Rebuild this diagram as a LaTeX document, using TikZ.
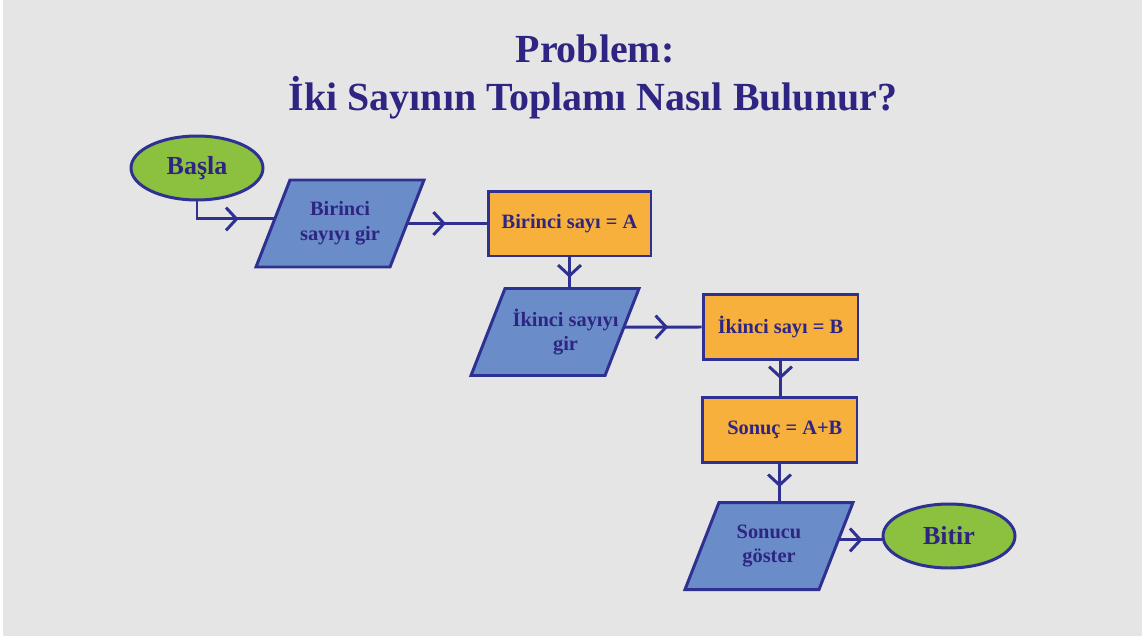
\documentclass[tikz,border=0pt]{standalone}
\usepackage{fontspec}
\setmainfont{Liberation Serif}
\usetikzlibrary{shapes.geometric,arrows.meta,decorations.markings,calc}

\definecolor{pagebg}{HTML}{E5E5E5}
\definecolor{edge}{HTML}{2E3192}
\definecolor{ink}{HTML}{2E2583}
\definecolor{iofill}{HTML}{6A8DC9}
\definecolor{procfill}{HTML}{F8B03C}
\definecolor{termfill}{HTML}{8CC13F}

\newcommand{\boxfont}{\fontsize{11.6}{14.2}\selectfont\bfseries}
\newcommand{\termfont}{\fontsize{14.8}{17}\selectfont\bfseries}
\newcommand{\titlefont}{\fontsize{22.7}{27}\selectfont\bfseries}

\tikzset{
  base/.style={draw=edge, line width=1.7pt, text=ink, inner sep=0pt},
  terminal/.style={base, ellipse, fill=termfill, minimum width=2.64cm,
    minimum height=1.28cm, font=\termfont},
  process/.style={base, rectangle, fill=procfill, minimum width=3.1cm,
    minimum height=1.3cm, font=\boxfont},
  ioshape/.style={draw=edge, line width=1.7pt, fill=iofill, line join=miter},
  iotext/.style={text=ink, inner sep=0pt, font=\boxfont, align=center},
  flow/.style={draw=edge, line width=1.7pt, postaction={decorate},
    decoration={markings, mark=at position #1 with
      {\arrow{Straight Barb[length=6pt,width=13pt,line width=1.7pt]}}}},
  flow/.default=0.5
}

% input/output parallelogram: name, centre, text
% corners: -tl -tr -br -bl, edge midpoints: -n -e -w
\newcommand{\iobox}[3]{%
  \coordinate (#1-c) at (#2);
  \draw[ioshape]
    ($(#1-c)+(-50,-43.5)$) coordinate (#1-tl) --
    ($(#1-c)+(84,-43.5)$) coordinate (#1-tr) --
    ($(#1-c)+(50,43.5)$) coordinate (#1-br) --
    ($(#1-c)+(-84,43.5)$) coordinate (#1-bl) -- cycle;
  \coordinate (#1-n) at ($(#1-tl)!0.5!(#1-tr)$);
  \coordinate (#1-e) at ($(#1-tr)!0.5!(#1-br)$);
  \coordinate (#1-w) at ($(#1-tl)!0.5!(#1-bl)$);
  \node[iotext] (#1) at (#1-c) {#3};%
}

\begin{document}
\begin{tikzpicture}[x=0.02cm, y=-0.02cm]
  % page
  \fill[white] (0,0) rectangle (1142,639);
  \fill[pagebg] (3,0) rectangle (1142,636);
  \useasboundingbox (0,0) rectangle (1142,639);

  % heading
  \node[anchor=base, text=ink, font=\titlefont] (t1) at (595,62.7) {Problem:};
  \node[anchor=base, text=ink, font=\titlefont] (t2) at (593,110.7) {İki Sayının Toplamı Nasıl Bulunur?};

  % flow chart shapes
  \node[terminal] (basla) at (197,168) {Başla};
  \iobox{p1}{340,223.5}{Birinci\\sayıyı gir}
  \node[process, minimum width=3.26cm] (r1) at (569.5,223.5) {Birinci sayı = A};
  \iobox{p2}{555,332}{\hspace*{12pt}İkinci sayıyı\\\hspace*{12pt}gir}
  \node[process] (r2) at (780.5,327) {İkinci sayı = B};
  \node[process] (r3) at (779.5,430) {\hspace*{6pt}Sonuç = A+B};
  \iobox{p3}{769,546}{Sonucu\\göster}
  \node[terminal] (bitir) at (949,536) {Bitir};

  % entry and exit points on the slanted sides
  \coordinate (p1-in)  at ($(p1-tl)!0.448!(p1-bl)$);
  \coordinate (p2-out) at ($(p2-tr)!0.443!(p2-br)$);
  \coordinate (p3-out) at ($(p3-tr)!0.43!(p3-br)$);

  % connectors
  \draw[flow=0.62] (basla.south) |- (p1-in);
  \draw[flow=0.49] (p1-e) -- (r1.west);
  \draw[flow=0.65] (r1.south) -- (r1.south |- p2-n);
  \draw[flow=0.57] (p2-out) -- (r2.west);
  \draw[flow=0.52] (r2.south) -- (r2.south |- r3.north);
  \draw[flow=0.6] (r3.south) -- (r3.south |- p3-n);
  \draw[flow=0.56] (p3-out) -- (bitir.west |- p3-out);
\end{tikzpicture}
\end{document}
